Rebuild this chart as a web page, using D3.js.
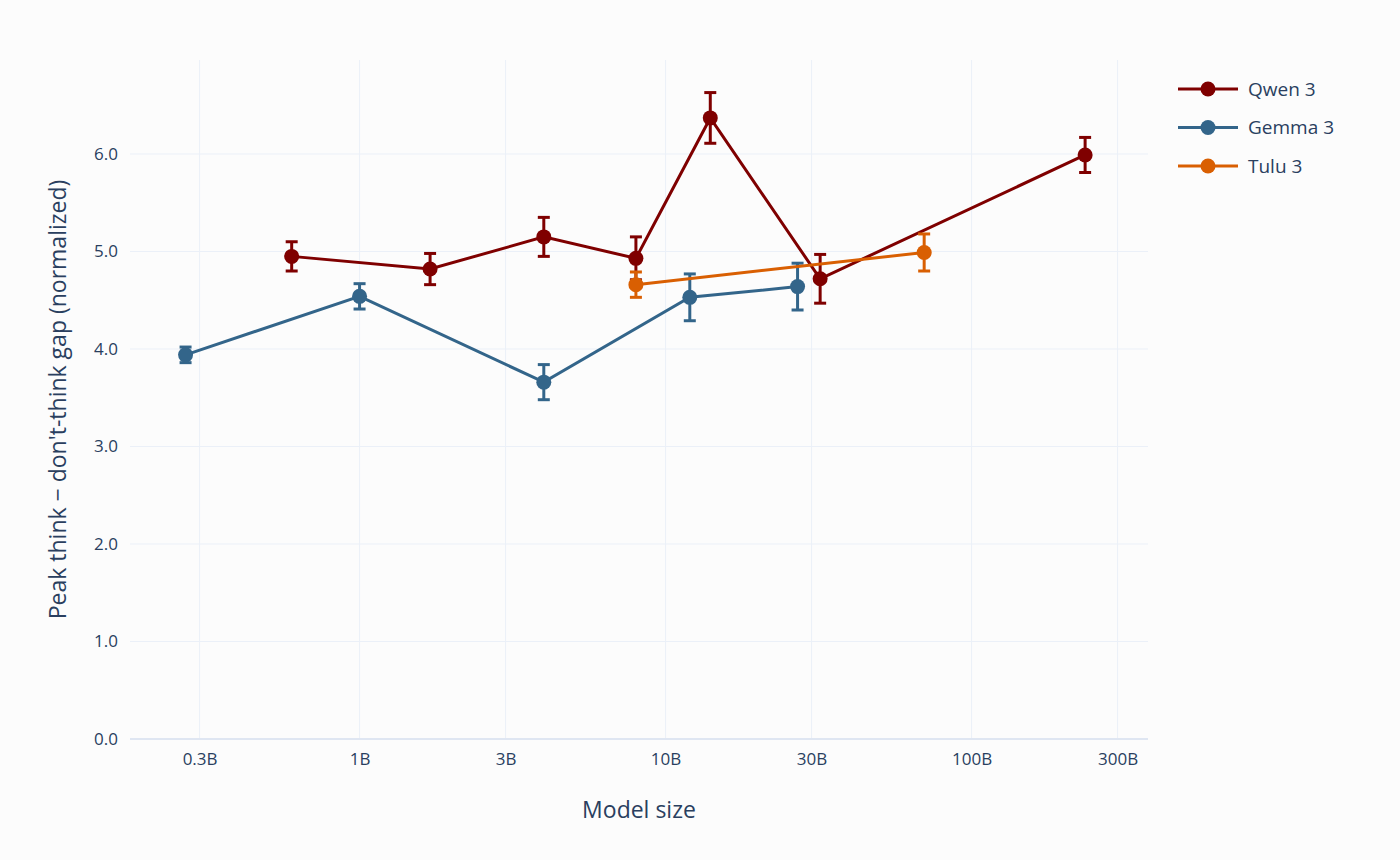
<!DOCTYPE html>
<html>
<head>
<meta charset="utf-8">
<script src="https://cdn.jsdelivr.net/npm/d3@7"></script>
<style>
body { margin: 0; background: #fcfcfc; }
text { font-family: "Open Sans", "Noto Sans", sans-serif; fill: #2a3f5f; }
</style>
</head>
<body>
<svg id="chart" width="1400" height="860"></svg>
<script>
// sizes in billions of parameters, gap values and error half-widths
const seriesNames = ["Qwen 3", "Gemma 3", "Tulu 3"];
const seriesColors = ["#7f0000", "#33658a", "#d95f02"];
const qwenSize = [0.6, 1.7, 4, 8, 14, 32, 235];
const qwenGap = [4.95, 4.82, 5.15, 4.93, 6.37, 4.72, 5.99];
const qwenErr = [0.15, 0.16, 0.2, 0.22, 0.26, 0.25, 0.18];
const gemmaSize = [0.27, 1, 4, 12, 27];
const gemmaGap = [3.94, 4.54, 3.66, 4.53, 4.64];
const gemmaErr = [0.08, 0.13, 0.18, 0.24, 0.24];
const tuluSize = [8, 70];
const tuluGap = [4.66, 4.99];
const tuluErr = [0.13, 0.19];
const xTicks = [0.3, 1, 3, 10, 30, 100, 300];
const xTickLabels = ["0.3B", "1B", "3B", "10B", "30B", "100B", "300B"];
const yTicks = [0, 1, 2, 3, 4, 5, 6];

const series = [
    {sizes: qwenSize, gaps: qwenGap, errs: qwenErr},
    {sizes: gemmaSize, gaps: gemmaGap, errs: gemmaErr},
    {sizes: tuluSize, gaps: tuluGap, errs: tuluErr}
].map((s, i) => ({
    name: seriesNames[i],
    color: seriesColors[i],
    points: s.sizes.map((x, j) => ({x: x, y: s.gaps[j], e: s.errs[j]}))
}));

const plotLeft = 130, plotRight = 1148, plotTop = 60, plotBottom = 739;
let svg = d3.select("#chart");

let xScale = d3.scaleLog().range([plotLeft, plotRight]);
xScale.domain([Math.pow(10, -0.528 + (plotLeft - 198) / 306), Math.pow(10, -0.528 + (plotRight - 198) / 306)]);
let yScale = d3.scaleLinear().domain([0, 6]).range([plotBottom, 154]);
yScale.domain([0, yScale.invert(plotTop)]).range([plotBottom, plotTop]);

// grid
svg.append("g").selectAll("line").data(xTicks).enter().append("line")
    .attr("x1", d => xScale(d)).attr("x2", d => xScale(d))
    .attr("y1", plotTop).attr("y2", plotBottom)
    .attr("stroke", "#ebf0f8").attr("stroke-width", 1);
svg.append("g").selectAll("line").data(yTicks).enter().append("line")
    .attr("x1", plotLeft).attr("x2", plotRight)
    .attr("y1", d => yScale(d)).attr("y2", d => yScale(d))
    .attr("stroke", d => d === 0 ? "#dfe6f2" : "#ebf0f8")
    .attr("stroke-width", d => d === 0 ? 2 : 1);

// axes
let xAxis = svg.append("g").attr("transform", `translate(0,${plotBottom})`)
    .call(d3.axisBottom(xScale).tickValues(xTicks).tickSize(0).tickPadding(14)
        .tickFormat((d, i) => xTickLabels[i]));
let yAxis = svg.append("g").attr("transform", `translate(${plotLeft},0)`)
    .call(d3.axisLeft(yScale).tickValues(yTicks).tickSize(0).tickPadding(12));
[xAxis, yAxis].forEach(a => {
    a.select(".domain").remove();
    a.selectAll("text").attr("font-size", 17).style("fill", "#2a3f5f")
        .style("font-family", "'Open Sans', sans-serif");
});

svg.append("text").attr("x", (plotLeft + plotRight) / 2).attr("y", 818)
    .attr("text-anchor", "middle").attr("font-size", 23).text("Model size");
svg.append("text").attr("transform", `translate(66,${(plotTop + plotBottom) / 2}) rotate(-90)`)
    .attr("text-anchor", "middle").attr("font-size", 23)
    .text("Peak think − don't-think gap (normalized)");

let line = d3.line().x(d => xScale(d.x)).y(d => yScale(d.y));

series.forEach(s => {
    let g = svg.append("g");
    g.append("path").datum(s.points).attr("d", line)
        .attr("fill", "none").attr("stroke", s.color).attr("stroke-width", 3);
    let eb = g.selectAll(".eb").data(s.points).enter().append("g");
    eb.append("line")
        .attr("x1", d => xScale(d.x)).attr("x2", d => xScale(d.x))
        .attr("y1", d => yScale(d.y - d.e)).attr("y2", d => yScale(d.y + d.e))
        .attr("stroke", s.color).attr("stroke-width", 3);
    [-1, 1].forEach(k => {
        eb.append("line")
            .attr("x1", d => xScale(d.x) - 6).attr("x2", d => xScale(d.x) + 6)
            .attr("y1", d => yScale(d.y + k * d.e)).attr("y2", d => yScale(d.y + k * d.e))
            .attr("stroke", s.color).attr("stroke-width", 3);
    });
    g.selectAll("circle").data(s.points).enter().append("circle")
        .attr("cx", d => xScale(d.x)).attr("cy", d => yScale(d.y)).attr("r", 7.5)
        .attr("fill", s.color);
});

// legend
let legend = svg.append("g").attr("transform", "translate(1178,89)");
series.forEach((s, i) => {
    let item = legend.append("g").attr("transform", `translate(0,${i * 38.5})`);
    item.append("line").attr("x1", 0).attr("x2", 60).attr("stroke", s.color).attr("stroke-width", 3);
    item.append("circle").attr("cx", 30).attr("r", 7.5).attr("fill", s.color);
    item.append("text").attr("x", 70).attr("dy", "0.35em").attr("font-size", 19).text(s.name);
});
</script>
</body>
</html>
